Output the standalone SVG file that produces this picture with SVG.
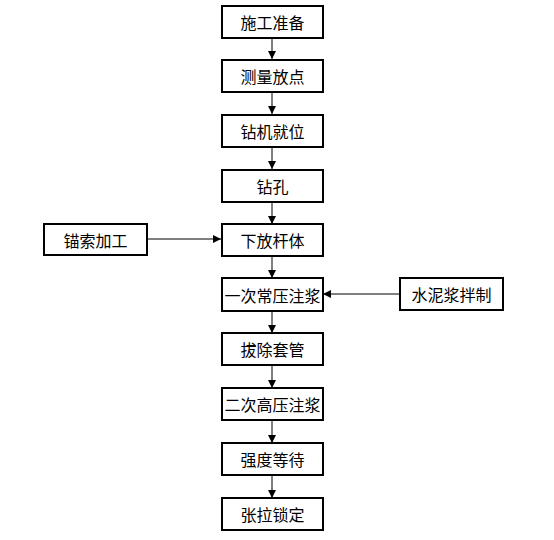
<svg xmlns="http://www.w3.org/2000/svg" width="554" height="540" viewBox="0 0 554 540">
<style>
.b{fill:#fff;stroke:#000;stroke-width:2}
.t{font-family:"Noto Sans CJK SC","Noto Sans",sans-serif;font-size:16px;fill:#000;text-anchor:middle;dominant-baseline:central}
.c{stroke:#000;stroke-width:1;fill:none;marker-end:url(#a)}
</style>
<defs><marker id="a" markerWidth="8" markerHeight="8" refX="8" refY="4" orient="auto" markerUnits="userSpaceOnUse"><path d="M0,0 L8,4 L0,8 Z" fill="#000"/></marker></defs>
<rect width="554" height="540" fill="#fff"/>
<g id="connectors">
<path class="c" d="M272,38 V59"/>
<path class="c" d="M272,92 V114"/>
<path class="c" d="M272,147 V169"/>
<path class="c" d="M272,202 V224"/>
<path class="c" d="M272,256 V278"/>
<path class="c" d="M272,311 V333"/>
<path class="c" d="M272,366 V388"/>
<path class="c" d="M272,420 V443"/>
<path class="c" d="M272,475 V498"/>
<path class="c" d="M148,239 H221"/>
<path class="c" d="M399,294 H323"/>
</g>
<g id="n1"><rect class="b" x="222" y="6" width="101" height="32"/><text class="t" x="272.5" y="22">施工准备</text></g>
<g id="n2"><rect class="b" x="222" y="60" width="101" height="32"/><text class="t" x="272.5" y="76">测量放点</text></g>
<g id="n3"><rect class="b" x="222" y="115" width="101" height="32"/><text class="t" x="272.5" y="131">钻机就位</text></g>
<g id="n4"><rect class="b" x="222" y="170" width="101" height="32"/><text class="t" x="272.5" y="186">钻孔</text></g>
<g id="n5"><rect class="b" x="222" y="224" width="101" height="32"/><text class="t" x="272.5" y="240">下放杆体</text></g>
<g id="n6"><rect class="b" x="222" y="278" width="101" height="33"/><text class="t" x="272.5" y="294.5">一次常压注浆</text></g>
<g id="n7"><rect class="b" x="222" y="333" width="101" height="32"/><text class="t" x="272.5" y="349">拔除套管</text></g>
<g id="n8"><rect class="b" x="222" y="388" width="101" height="32"/><text class="t" x="272.5" y="404">二次高压注浆</text></g>
<g id="n9"><rect class="b" x="222" y="443" width="101" height="32"/><text class="t" x="272.5" y="459">强度等待</text></g>
<g id="n10"><rect class="b" x="222" y="498" width="101" height="32"/><text class="t" x="272.5" y="514">张拉锁定</text></g>
<g id="n11"><rect class="b" x="44" y="224" width="103" height="31"/><text class="t" x="95.5" y="239.5">锚索加工</text></g>
<g id="n12"><rect class="b" x="400" y="278" width="103" height="32"/><text class="t" x="451.5" y="294">水泥浆拌制</text></g>
</svg>
